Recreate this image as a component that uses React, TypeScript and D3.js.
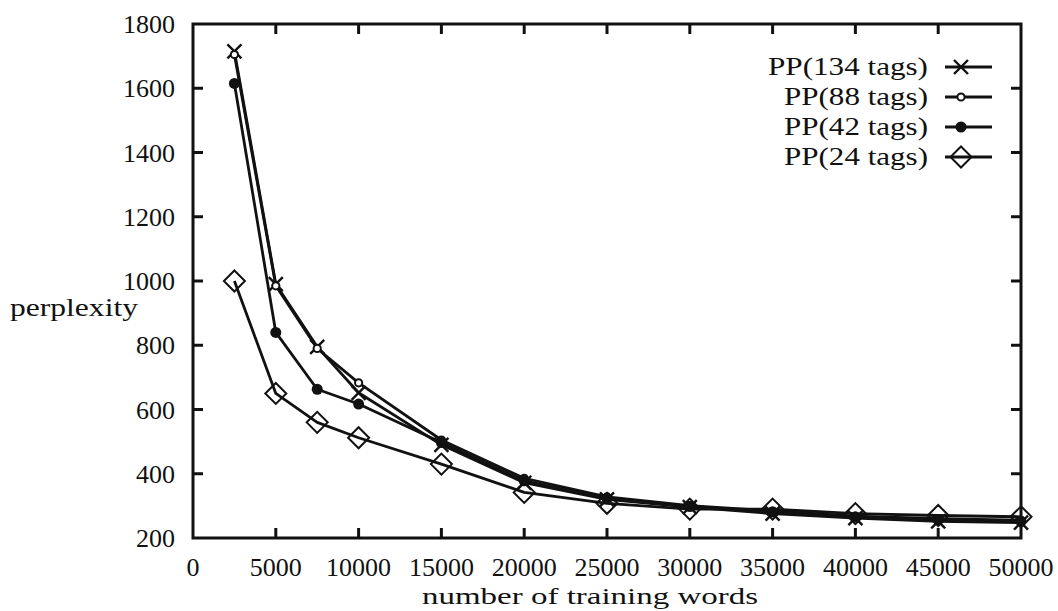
import React from "react";
import * as d3 from "d3";

const trainingWords = [2500, 5000, 7500, 10000, 15000, 20000, 25000, 30000, 35000, 40000, 45000, 50000];
const pp134 = [1715, 990, 795, 652, 490, 372, 320, 296, 276, 262, 252, 248];
const pp88 = [1705, 985, 790, 683, 505, 386, 328, 301, 284, 268, 260, 255];
const pp42 = [1615, 840, 663, 617, 497, 378, 323, 298, 281, 265, 257, 252];
const pp24 = [1000, 650, 560, 512, 430, 342, 308, 290, 290, 276, 270, 266];
const seriesNames = ["PP(134 tags)", "PP(88 tags)", "PP(42 tags)", "PP(24 tags)"];
const xTicks = [0, 5000, 10000, 15000, 20000, 25000, 30000, 35000, 40000, 45000, 50000];
const yTicks = [200, 400, 600, 800, 1000, 1200, 1400, 1600, 1800];

const W = 1058, H = 611;
const L = 193, R = 1021, T = 24, B = 538;
const FONT = "'Liberation Serif', 'Times New Roman', serif";
const INK = "#111";

type MarkerKind = "x" | "o" | "dot" | "diamond";
const kinds: MarkerKind[] = ["x", "o", "dot", "diamond"];
const allSeries = [pp134, pp88, pp42, pp24];

function Marker({ kind, cx, cy }: { kind: MarkerKind; cx: number; cy: number }) {
  if (kind === "x") {
    const s = 7;
    return (
      <g stroke={INK} strokeWidth={2.4}>
        <line x1={cx - s} y1={cy - s} x2={cx + s} y2={cy + s} />
        <line x1={cx - s} y1={cy + s} x2={cx + s} y2={cy - s} />
      </g>
    );
  }
  if (kind === "o") {
    return <circle cx={cx} cy={cy} r={3.6} fill="#fff" stroke={INK} strokeWidth={2} />;
  }
  if (kind === "dot") {
    return <circle cx={cx} cy={cy} r={5.5} fill={INK} />;
  }
  const d = 10.5;
  return (
    <path
      d={`M${cx},${cy - d}L${cx + d},${cy}L${cx},${cy + d}L${cx - d},${cy}Z`}
      fill="none"
      stroke={INK}
      strokeWidth={2}
    />
  );
}

export default function App() {
  const x = d3.scaleLinear().domain([0, 50000]).range([L, R]);
  const y = d3.scaleLinear().domain([200, 1800]).range([B, T]);
  const line = d3
    .line<number>()
    .x((_, i) => x(trainingWords[i]))
    .y((v) => y(v));

  const tickLen = 10;
  const legendRows = [67, 97, 127, 157];

  return (
    <svg
      width={W}
      height={H}
      style={{ position: "absolute", left: 0, top: 0, background: "#fff" }}
      fontFamily={FONT}
    >
      <rect x={0} y={0} width={W} height={H} fill="#fff" />
      {/* frame */}
      <rect x={L} y={T} width={R - L} height={B - T} fill="none" stroke={INK} strokeWidth={3} />
      {/* ticks */}
      {xTicks.slice(1, -1).map((t) => (
        <g key={"xt" + t} stroke={INK} strokeWidth={3}>
          <line x1={x(t)} x2={x(t)} y1={B} y2={B - tickLen} />
          <line x1={x(t)} x2={x(t)} y1={T} y2={T + tickLen} />
        </g>
      ))}
      {yTicks.slice(1, -1).map((t) => (
        <g key={"yt" + t} stroke={INK} strokeWidth={3}>
          <line x1={L} x2={L + tickLen} y1={y(t)} y2={y(t)} />
          <line x1={R} x2={R - tickLen} y1={y(t)} y2={y(t)} />
        </g>
      ))}
      {/* tick labels */}
      {xTicks.map((t) => (
        <text key={"xl" + t} x={x(t)} y={576} textAnchor="middle" fontSize={26} fill={INK}>
          {t}
        </text>
      ))}
      {yTicks.map((t) => (
        <text key={"yl" + t} x={175} y={y(t) + 9} textAnchor="end" fontSize={26} fill={INK}>
          {t}
        </text>
      ))}
      {/* axis titles */}
      <text x={10} y={316} fontSize={26} fill={INK} textLength={128} lengthAdjust="spacingAndGlyphs">
        perplexity
      </text>
      <text x={422} y={604} fontSize={24} fill={INK} textLength={336} lengthAdjust="spacingAndGlyphs">
        number of training words
      </text>
      {/* series */}
      {allSeries.map((s, si) => (
        <g key={"s" + si}>
          <path d={line(s) || ""} fill="none" stroke={INK} strokeWidth={2.8} strokeLinejoin="round" />
          {s.map((v, i) => (
            <Marker key={i} kind={kinds[si]} cx={x(trainingWords[i])} cy={y(v)} />
          ))}
        </g>
      ))}
      {/* legend */}
      {seriesNames.map((name, i) => {
        const ly = legendRows[i];
        const len = i === 0 ? 160 : 144;
        return (
          <g key={"lg" + i}>
            <text
              x={928 - len}
              y={ly + 8}
              fontSize={26}
              fill={INK}
              textLength={len}
              lengthAdjust="spacingAndGlyphs"
            >
              {name}
            </text>
            <line x1={945} x2={992} y1={ly} y2={ly} stroke={INK} strokeWidth={3} />
            <Marker kind={kinds[i]} cx={961} cy={ly} />
          </g>
        );
      })}
    </svg>
  );
}
